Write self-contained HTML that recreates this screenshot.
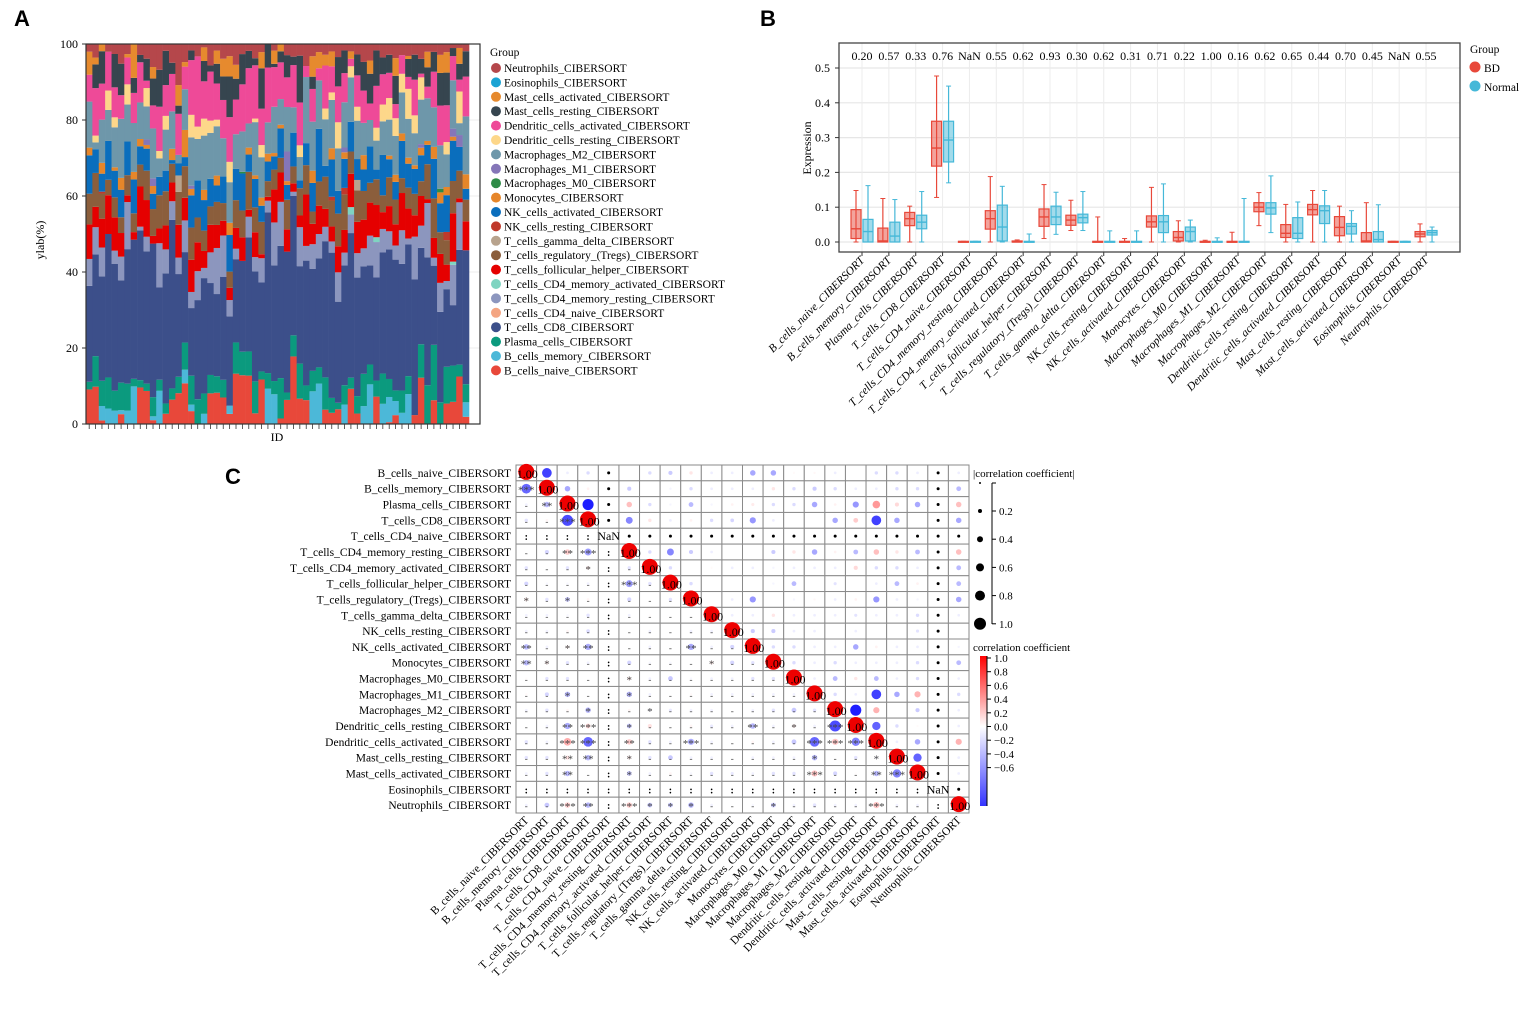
<!DOCTYPE html>
<html><head><meta charset="utf-8"><style>
html,body{margin:0;padding:0;background:#fff;}
svg{display:block;font-family:"Liberation Serif",serif;}
</style></head><body>
<svg id="fig" width="1535" height="1009" viewBox="0 0 1535 1009" xmlns="http://www.w3.org/2000/svg">
<text x="14" y="26" font-family="Liberation Sans,sans-serif" font-weight="bold" font-size="22">A</text>
<text x="760" y="26" font-family="Liberation Sans,sans-serif" font-weight="bold" font-size="22">B</text>
<text x="225" y="484" font-family="Liberation Sans,sans-serif" font-weight="bold" font-size="22">C</text>
<g id="pa"></g>
<g id="pb"></g>
<g id="pc"></g>
</svg>
<script>
const NS="http://www.w3.org/2000/svg";
function mk(parent,tag,attrs,txt){const e=document.createElementNS(NS,tag);for(const k in attrs)e.setAttribute(k,attrs[k]);if(txt!==undefined)e.textContent=txt;parent.appendChild(e);return e;}

// ---------- Panel A data ----------
const cellTypes=["B_cells_naive_CIBERSORT","B_cells_memory_CIBERSORT","Plasma_cells_CIBERSORT","T_cells_CD8_CIBERSORT","T_cells_CD4_naive_CIBERSORT","T_cells_CD4_memory_resting_CIBERSORT","T_cells_CD4_memory_activated_CIBERSORT","T_cells_follicular_helper_CIBERSORT","T_cells_regulatory_(Tregs)_CIBERSORT","T_cells_gamma_delta_CIBERSORT","NK_cells_resting_CIBERSORT","NK_cells_activated_CIBERSORT","Monocytes_CIBERSORT","Macrophages_M0_CIBERSORT","Macrophages_M1_CIBERSORT","Macrophages_M2_CIBERSORT","Dendritic_cells_resting_CIBERSORT","Dendritic_cells_activated_CIBERSORT","Mast_cells_resting_CIBERSORT","Mast_cells_activated_CIBERSORT","Eosinophils_CIBERSORT","Neutrophils_CIBERSORT"];
const cellColors=["#E8483A","#4CB8D8","#0B9A7E","#3C4F8A","#F4A582","#8C96BE","#7FD4C1","#E50000","#8B5E3C","#B8A38D","#C0392B","#0A6EBD","#E6862A","#2E8B47","#8576B8","#6E97AA","#FDD78A","#EE4A98","#36454F","#E68A2E","#1BA3D4","#B5474B"];
const vBnaive=[9,11,1,0,0,2.5,0,0,10,9,1,0,3,6.5,7.5,9,4,0,0,10,9.5,9,2.5,14.5,14.5,14,3,11,0,0,1.5,6.5,16,6.5,6.5,0,0,4,3,4.5,0,9.5,3,0,0,8.5,0,0.5,2.5,0,0,2.5,12.5,0,6,0,5,5.5,12,2];
const vBmem=[0,0,4,4,4,1,4,10,0,0,1,9,0,0,0,3,2,0,3,0,0,0,2,0,0,0,0,0,9,9,0,0,0,0,0,8,10,0,0,0,6,0,0,5,12,0,6,7,4,3,10,0,0,0,0,0,0,0,0,4];
const vPlasma=[2,9,7,8,6,7,8,2,2,2,5,3,3,3,4,6,9,6,6,6,5,6,0,9,7,7,9,2,4,4,11,2,5,9,4,5,4,9,4,2,6,3,5,9,6,5,9,5,3,6,6,0,9,10,14,6,9,9,3,5];
const vCD8=[25,30,29,37,38,26,40,37,41,36,40,25,38,45,25,20,21,24,34,30,25,35,22,24,27,33,31,22,41,35,36,38,33,25,34,25,27,38,39,31,37,39,34,30,30,32,36,36,37,34,44,38,26,33,20,25,19,15,29,37];
const vCD4naive=new Array(60).fill(0);
const vCD4res=[7,8,8,0,4,6,14,0,1,4,0,12,7,5,4,7,5,7,3,10,14,14,4,3,0,6,4,6,3,13,12,0,1,10,4,6,6,4,3,9,4,5,7,5,9,11,7,5,4,9,2,12,6,14,2,8,2,10,12,0];
const vCD4act=[0,0,0,0,0,0,0,0,0,0,0,0,0,0,0,0,0,0,0,0,0,0,0,0,0,0,0,0,0,0,0,0,0,0,0,0,0,0,0,0,0,2,0,0,0,1.5,0,0,0,0,0,0,0,0,0,0,0,0.8,0,0];
const vTfh=[9,6,8,10,10,6,2,2,11,10,2,4,7,5,8,5,10,7,5,9,7,5,3,6,7,2,7,1,1,10,8,6,2,3,14,5,7,5,4,8,7,9,9,8,10,10,5,7,6,10,10,6,8,1,5,8,4,12,1,8];
const vTreg=[8,10,7,4,6,4,6,5,6,8,7,9,10,5,8,7,10,6,6,6,7,6,4,8,8,11,7,8,4,6,4,8,4,7,8,3,6,9,7,10,11,6,9,8,6,8,5,8,7,4,7,6,4,9,10,6,6,8,7,6];
const vGamma=[0,0,0,0,0,0,0,0,0,0,0,0,0,0,4,0,0,0,0,0,0,0,0,0,0,0,0,0,0,0,0,0,0,0,0,0,0,0,0,0,0,0,3,0,0,0,0,0,0,0,0,0,0,0,0,0,0,0,0,0];
const vNKres=[0,0,0.5,0,0,0,0,0,0,0,0,0,0,0,0,0,0,0,0,0,0,0,0,0,0,0,0,0,0,0,0,0,0,0,0,0,0,0,1,0,2,0,0,0,0,0,0,0,0,0,0,0,0,0,0,0,2,0,0,0];
const vNKact=[10,7,5,10,8,7,10,9,5,6,4,5,6,1,3,2,10,9,9,9,5,9,9,9,11,5,8,4,5,4,8,4,8,2,6,7,13,3,10,7,9,8,6,6,11,3,12,5,5,10,8,7,7,5,10,8,9,10,6,3];
const vMono=[2,0,3,0,1,3,0,2,2,1,2,0,0,3,0,6,2,0,3,0,3,0,3,0,0,2,1,2,2,1,1,1,0,0,0,3,0,0,3,0,2,0,0,4,0,0,0,1,2,2,2,1,2,1,3,3,2,1,0,4];
const vM0=[0,0,0,0,0,0,0,0,0,0,0,0,0,0,0,0,0,0,0,0,0,0,0,0,0.5,0,0,0,0,0,0,0,0,0,0,0,0,0,0,0,0,0,0,0,0,0,0,0,0,0,0,0,0,0,0,1,0,0,0,0];
const vM1=[0,0,0,0,0,0,0,0,0,1.5,2,0,0,0,0,0,1,0,0,0,0,0,0,0,0,0,0,0,0,0,0,8,0,0,0,0,0,0,0,0,1.5,0,0,0,0,0,0,0,0,0,0,0,1,0,0,0,0,2,3,0];
const vM2=[12,2,12,8,12,15,11,13,10,9,13,5,12,10,2,9,15,10,16,15,15,13,10,10,12,7,15,10,8,14,7,12,6,6,18,12,12,13,13,13,14,12,11,9,8,9,10,10,11,11,13,9,12,11,10,12,8,12,3,16];
const vDCres=[0,2,0,5,3,0,6,0,0,5,0,2,4,0,0,0,7,3,5,4,2,0,5,0,0,0,1,3,0,0,0,0,0,3,0,0,0,3,2,8,0,3,4,0,0,4,5,6,5,5,10,5,6,0,0,0,3,0,8,0];
const vDCact=[7,14,10,10,9,6,8,8,11,2,6,12,9,10,10,5,17,17,11,16,11,13,11,10,14,16,15,9,14,12,10,8,10,11,3,8,3,12,7,11,9,2,9,9,5,13,9,7,4,5,4,10,1,3,9,11,9,6,3,11];
const vMastRes=[0,7,9,0,10,8,0,4,2,6,7,10,10,3,2,0,3,0,6,2,6,8,10,6,9,5,2,10,6,1,3,6,2,12,0,3,0,0,0,9,7,0,6,8,9,11,5,5,8,0,6,7,4,5,5,9,8,2,4,7];
const vMastAct=[6,2,2,0,0,0,1,9,0,0,3,0,0,0,5,1,0,0,4,0,4,6,5,4,0,0,0,4,0,4,2,0,0,0,0,5,4,3,4,0,0,2,0,0,4,0,0,0,5,0,1,0,0,4,0,5,5,0,4,0];
const vEos=new Array(60).fill(0);
const vNeut=[2,4,0,2,3,5,3,0,3,4,6,7,2,5,10,4,2,3,1,7,2,5,3,6,3,2,4,2,0,2,0,3,3,3,6,3,2,3,2,4,2,2,3,5,5,2,4,3,4,3,4,3,4,2,2,3,2,1,1,2];
const yTicksA=[0,20,40,60,80,100];

// ---------- Panel B data ----------
const bdQ1=[0.01,0,0.047,0.218,0,0.037,0,0.045,0.048,0,0,0.043,0.003,0,0,0.087,0.013,0.078,0.018,0,0,0.015];
const bdMed=[0.038,0.003,0.067,0.27,0,0.067,0,0.072,0.063,0,0,0.058,0.013,0,0,0.1,0.025,0.093,0.042,0.003,0,0.023];
const bdQ3=[0.093,0.04,0.085,0.347,0.002,0.09,0.003,0.095,0.077,0.002,0.002,0.075,0.03,0.002,0.002,0.113,0.05,0.108,0.073,0.027,0.002,0.03];
const bdLo=[0,0,0,0.128,0,0,0,0.01,0.033,0,0,0,0,0,0,0.047,0,0,0,0,0,0];
const bdHi=[0.148,0.125,0.103,0.477,0.002,0.188,0.006,0.165,0.12,0.072,0.01,0.157,0.061,0.005,0.028,0.142,0.108,0.148,0.103,0.113,0.002,0.052];
const nQ1=[0,0,0.038,0.23,0,0.003,0,0.05,0.055,0,0,0.027,0.003,0,0,0.08,0.01,0.053,0.023,0,0,0.02];
const nMed=[0.03,0.017,0.057,0.293,0,0.043,0,0.072,0.07,0,0,0.058,0.03,0,0,0.098,0.025,0.09,0.045,0.007,0,0.027];
const nQ3=[0.065,0.057,0.077,0.347,0.002,0.106,0.002,0.103,0.08,0.002,0.002,0.076,0.043,0.002,0.002,0.113,0.07,0.104,0.053,0.03,0.002,0.033];
const nLo=[0,0,0,0.17,0,0,0,0.022,0.033,0,0,0,0,0,0,0.027,0,0,0,0,0,0];
const nHi=[0.162,0.122,0.145,0.448,0.002,0.16,0.023,0.143,0.145,0.032,0.032,0.167,0.063,0.012,0.125,0.19,0.115,0.148,0.09,0.107,0.002,0.043];
const pLabels=["0.20","0.57","0.33","0.76","NaN","0.55","0.62","0.93","0.30","0.62","0.31","0.71","0.22","1.00","0.16","0.62","0.65","0.44","0.70","0.45","NaN","0.55"];
const bxCats=["B_cells_naive_CIBERSORT","B_cells_memory_CIBERSORT","Plasma_cells_CIBERSORT","T_cells_CD8_CIBERSORT","T_cells_CD4_naive_CIBERSORT","T_cells_CD4_memory_resting_CIBERSORT","T_cells_CD4_memory_activated_CIBERSORT","T_cells_follicular_helper_CIBERSORT","T_cells_regulatory_(Tregs)_CIBERSORT","T_cells_gamma_delta_CIBERSORT","NK_cells_resting_CIBERSORT","NK_cells_activated_CIBERSORT","Monocytes_CIBERSORT","Macrophages_M0_CIBERSORT","Macrophages_M1_CIBERSORT","Macrophages_M2_CIBERSORT","Dendritic_cells_resting_CIBERSORT","Dendritic_cells_activated_CIBERSORT","Mast_cells_resting_CIBERSORT","Mast_cells_activated_CIBERSORT","Eosinophils_CIBERSORT","Neutrophils_CIBERSORT"];
const yTicksB=[0,0.1,0.2,0.3,0.4,0.5];

// ---------- Panel C data (upper triangle, row i, cols i+1..21; null = NaN) ----------
const corrUpper=[
[-0.55,-0.05,-0.1,null,0,-0.1,-0.15,0.1,-0.05,-0.05,-0.25,-0.25,0.02,0.03,-0.05,0,-0.1,-0.1,-0.05,null,-0.05],
[-0.25,0.05,null,-0.15,0,-0.03,-0.1,-0.05,-0.05,-0.05,0.1,-0.1,-0.15,-0.1,-0.05,-0.05,-0.1,-0.1,null,-0.2],
[-0.65,null,0.25,-0.1,-0.03,-0.2,-0.03,0.05,0.08,-0.1,-0.1,-0.25,0.05,-0.3,0.4,0.15,-0.25,null,0.25],
[null,-0.35,0.1,-0.05,0.05,-0.1,-0.12,-0.3,-0.05,0,0,-0.25,0.2,-0.55,-0.25,0,null,-0.25],
[null,null,null,null,null,null,null,null,null,null,null,null,null,null,null,null,null],
[-0.1,-0.35,-0.15,-0.05,0,0,-0.15,0.1,-0.25,0.05,-0.2,0.25,0.1,-0.2,null,0.25],
[-0.1,0,0.02,-0.05,-0.05,-0.03,-0.05,-0.05,-0.05,0.15,-0.1,-0.1,-0.05,null,-0.2],
[-0.1,0,0,0,-0.03,-0.2,0,-0.08,0,-0.05,-0.2,0.05,null,-0.2],
[0,-0.05,-0.3,0,-0.03,0.03,-0.05,0.05,-0.3,-0.05,-0.03,null,-0.25],
[-0.05,-0.05,0.1,-0.05,-0.05,-0.05,-0.08,-0.05,-0.05,-0.1,null,-0.05],
[-0.15,-0.15,-0.05,-0.05,0,-0.05,0,0,-0.08,null,0],
[-0.1,-0.1,-0.05,-0.05,-0.25,0.05,-0.05,-0.05,null,-0.03],
[-0.1,-0.05,-0.1,-0.05,-0.05,-0.05,-0.1,null,-0.2],
[-0.05,-0.2,0.1,-0.2,-0.05,-0.1,null,-0.05],
[-0.1,-0.05,-0.55,-0.25,0.3,null,-0.1],
[-0.65,0.3,0,-0.15,null,-0.05],
[-0.45,-0.1,0.02,null,-0.05],
[-0.05,-0.25,null,0.3],
[-0.45,null,-0.05],
[null,-0.05],
[null],
[]
];
const sigRows=[1,2,3,5,5,6,7,8,8,11,11,11,11,12,12,12,13,14,14,15,15,16,16,16,16,16,16,17,17,17,17,17,17,17,18,18,18,18,18,19,19,19,19,19,21,21,21,21,21,21,21,21];
const sigCols=[0,1,2,2,3,3,5,0,2,0,2,3,8,0,1,9,5,2,5,3,6,2,3,5,11,13,15,2,3,5,8,14,15,16,2,3,5,14,17,2,5,14,17,18,2,3,5,6,7,8,12,17];
const sigStars=["***","**","***","**","***","*","***","*","*","**","*","**","**","**","*","*","*","*","*","*","*","**","***","*","**","*","***","***","***","**","***","***","***","***","**","**","*","*","*","**","*","***","**","***","***","**","***","*","*","*","*","***"];
const sizeLegendVals=[0.2,0.4,0.6,0.8,1.0];
const colorLegendTicks=[1.0,0.8,0.6,0.4,0.2,0.0,-0.2,-0.4,-0.6];

// ================= Panel A =================
(function(){
const g=document.getElementById('pa');
const L=86,R=480,T=44,B=424,N=60;
const y=v=>B-(v/100)*(B-T);
const bw=(469-L)/N;
const xb=i=>L+i*bw;
const series=[vBnaive,vBmem,vPlasma,vCD8,vCD4naive,vCD4res,vCD4act,vTfh,vTreg,vGamma,vNKres,vNKact,vMono,vM0,vM1,vM2,vDCres,vDCact,vMastRes,vMastAct,vEos,vNeut];
mk(g,'rect',{x:L,y:T,width:R-L,height:B-T,fill:'#fff',stroke:'none'});
yTicksA.forEach(t=>{const l=mk(g,'line',{x1:L,x2:R,y1:y(t),y2:y(t),stroke:'#ececec'});
});
for(let i=0;i<N;i++){
 let tot=0;series.forEach(s=>tot+=s[i]);
 let acc=0;
 series.forEach((s,k)=>{const v=s[i]/tot*100;if(v<=0)return;
  const r=mk(g,'rect',{x:xb(i),y:y(acc+v),width:bw+0.3,height:y(acc)-y(acc+v),fill:cellColors[k]});
  
  acc+=v;});
 const tk=mk(g,'line',{x1:xb(i)+bw/2,x2:xb(i)+bw/2,y1:B,y2:B+5,stroke:'#333','stroke-width':0.8});
 
}
mk(g,'rect',{x:L,y:T,width:R-L,height:B-T,fill:'none',stroke:'#333','stroke-width':1.2});
yTicksA.forEach(t=>{mk(g,'line',{x1:L-4,x2:L,y1:y(t),y2:y(t),stroke:'#333'});
 const tx=mk(g,'text',{x:L-8,y:y(t)+4,'text-anchor':'end','font-size':12},String(t));
 });
mk(g,'text',{x:44,y:240,'font-size':12,'text-anchor':'middle',transform:'rotate(-90 44 240)',},'ylab(%)');
mk(g,'text',{x:277,y:441,'font-size':12,'text-anchor':'middle',},'ID');
const lg=mk(g,'g',{});
mk(lg,'text',{x:490,y:56,'font-size':11.5},'Group');
for(let j=0;j<22;j++){const k=21-j;const yy=68+j*14.4;
 const c=mk(lg,'circle',{cx:496,cy:yy,r:5,fill:cellColors[k]});
 
 const t=mk(lg,'text',{x:504,y:yy+4,'font-size':11.5},cellTypes[k]);
 }
})();

// ================= Panel B =================
(function(){
const g=document.getElementById('pb');
const L=839,R=1460,T=43,B=252;
const y=v=>242-v*348;
const x=i=>862+i*26.86;
const bdS='#E8483A',bdF='rgba(232,72,58,0.5)',nS='#45B8D8',nF='rgba(69,184,216,0.5)';
[0,0.1,0.2,0.3,0.4,0.5].forEach(t=>{const l=mk(g,'line',{x1:L,x2:R,y1:y(t),y2:y(t),stroke:'#e6e6e6','stroke-width':1.2});
 });
bxCats.forEach((c,i)=>mk(g,'line',{x1:x(i),x2:x(i),y1:T,y2:B,stroke:'#ececec'}));
function box(i,off,q1,md,q3,lo,hi,s,f,name){
 const cx=x(i)+off,w=10;
 const grp=mk(g,'g',{});
 
 mk(grp,'line',{x1:cx,x2:cx,y1:y(hi),y2:y(lo),stroke:s,'stroke-width':1.2});
 mk(grp,'line',{x1:cx-2.5,x2:cx+2.5,y1:y(hi),y2:y(hi),stroke:s});
 mk(grp,'line',{x1:cx-2.5,x2:cx+2.5,y1:y(lo),y2:y(lo),stroke:s});
 mk(grp,'rect',{x:cx-w/2,y:y(q3),width:w,height:Math.max(1,y(q1)-y(q3)),fill:f,stroke:s,'stroke-width':1.2});
 mk(grp,'line',{x1:cx-w/2,x2:cx+w/2,y1:y(md),y2:y(md),stroke:s,'stroke-width':1.4});
}
bxCats.forEach((c,i)=>{
 box(i,-6,bdQ1[i],bdMed[i],bdQ3[i],bdLo[i],bdHi[i],bdS,bdF,'box-bd');
 box(i,6,nQ1[i],nMed[i],nQ3[i],nLo[i],nHi[i],nS,nF,'box-normal');
 const p=mk(g,'text',{x:x(i),y:60,'font-size':12,'text-anchor':'middle'},pLabels[i]);
 
 mk(g,'line',{x1:x(i),x2:x(i),y1:B,y2:B+4,stroke:'#333'});
 const t=mk(g,'text',{x:x(i)+3,y:B+9,'font-size':11.5,'text-anchor':'end','font-style':'italic',transform:`rotate(-45 ${x(i)+3} ${B+9})`},c);
 
});
mk(g,'rect',{x:L,y:T,width:R-L,height:B-T,fill:'none',stroke:'#444','stroke-width':1.3});
yTicksB.forEach(t=>{mk(g,'line',{x1:L-4,x2:L,y1:y(t),y2:y(t),stroke:'#333'});
 const tx=mk(g,'text',{x:L-9,y:y(t)+4,'font-size':12,'text-anchor':'end'},t.toFixed(1));
 });
mk(g,'text',{x:811,y:148,'font-size':12,'text-anchor':'middle',transform:'rotate(-90 811 148)',},'Expression');
const lg=mk(g,'g',{});
mk(lg,'text',{x:1470,y:53,'font-size':11.5},'Group');
mk(lg,'circle',{cx:1475,cy:67,r:5.5,fill:bdS,});
mk(lg,'text',{x:1484,y:72,'font-size':11.5,},'BD');
mk(lg,'circle',{cx:1475,cy:86,r:5.5,fill:nS,});
mk(lg,'text',{x:1484,y:91,'font-size':11.5,},'Normal');
})();

// ================= Panel C =================
(function(){
const g=document.getElementById('pc');
const L=516,T=465,n=22,cw=453/22,ch=348/22;
const cx=j=>L+(j+0.5)*cw, cy=i=>T+(i+0.5)*ch;
const rad=v=>1+Math.abs(v)*7;
function col(v){
 if(v>=0){const t=Math.min(1,v);const gg=Math.round(255*(1-t));return `rgb(255,${gg},${gg})`;}
 const t=Math.min(1,-v/0.7);const rr=Math.round(255*(1-t*0.95));return `rgb(${rr},${rr},255)`;
}
const M=[];for(let i=0;i<n;i++){M.push(new Array(n).fill(0));}
corrUpper.forEach((row,i)=>row.forEach((v,k)=>{const j=i+1+k;M[i][j]=v;M[j][i]=v;}));
const nanIdx=[4,20];
for(let i=0;i<n;i++)for(let j=0;j<n;j++){
 const r=mk(g,'rect',{x:L+j*cw,y:T+i*ch,width:cw,height:ch,fill:'#fff',stroke:'#8a8a8a','stroke-width':1});
 
}
const sigMap={};sigRows.forEach((r,k)=>sigMap[r+'_'+sigCols[k]]=sigStars[k]);
for(let i=0;i<n;i++)for(let j=0;j<n;j++){
 const isNaN_=nanIdx.includes(i)||nanIdx.includes(j);
 if(i===j){
  if(isNaN_){mk(g,'text',{x:cx(j),y:cy(i)+4,'font-size':12,'text-anchor':'middle'},'NaN');continue;}
  const c=mk(g,'circle',{cx:cx(j),cy:cy(i)-1,r:8,fill:'#EE0000'});
  
  mk(g,'text',{x:cx(j)+1,y:cy(i)+5,'font-size':12,'text-anchor':'middle'},'1.00');
  continue;}
 if(j>i){
  if(isNaN_){mk(g,'circle',{cx:cx(j),cy:cy(i),r:1.5,fill:'#000'});continue;}
  const v=M[i][j];
  const c=mk(g,'circle',{cx:cx(j),cy:cy(i),r:rad(v),fill:col(v)});
  
 } else {
  if(isNaN_){mk(g,'text',{x:cx(j),y:cy(i)+4,'font-size':10,'text-anchor':'middle','font-weight':'bold'},':');continue;}
  const v=M[i][j];
  const c=mk(g,'circle',{cx:cx(j),cy:cy(i),r:rad(v),fill:col(v),opacity:0.8});
  
  const s=sigMap[i+'_'+j];
  mk(g,'text',{x:cx(j),y:cy(i)+(s?5:4),'font-size':s?11:9,'text-anchor':'middle',fill:'#444'},s||'-');
 }
}
cellTypes.forEach((c,i)=>{
 const t=mk(g,'text',{x:511,y:cy(i)+4,'font-size':11.5,'text-anchor':'end'},c);
 
 const xx=cx(i)+3,yy=T+n*ch+8;
 const u=mk(g,'text',{x:xx,y:yy,'font-size':11.5,'text-anchor':'end',transform:`rotate(-45 ${xx} ${yy})`},c);
 
});
const sl=mk(g,'g',{});
mk(sl,'text',{x:973,y:477,'font-size':11},'|correlation coefficient|');
mk(sl,'circle',{cx:980,cy:483,r:1,fill:'#000'});
mk(sl,'line',{x1:992,x2:992,y1:483,y2:624,stroke:'#000'});
mk(sl,'line',{x1:992,x2:996,y1:483,y2:483,stroke:'#000'});
sizeLegendVals.forEach((v,k)=>{const yy=511+k*28.2;
 mk(sl,'circle',{cx:980,cy:yy,r:1+v*5,fill:'#000'});
 mk(sl,'line',{x1:992,x2:996,y1:yy,y2:yy,stroke:'#000'});
 mk(sl,'text',{x:999,y:yy+4,'font-size':11},v.toFixed(1));});
const cl=mk(g,'g',{});
mk(cl,'text',{x:973,y:651,'font-size':11},'correlation coefficient');
const defs=mk(cl,'defs',{});
const gr=mk(defs,'linearGradient',{id:'cg',x1:0,y1:0,x2:0,y2:1});
[[0,'#ff0000'],[0.47,'#ffffff'],[1,'#3333ff']].forEach(s=>mk(gr,'stop',{offset:s[0],'stop-color':s[1]}));
mk(cl,'rect',{x:980,y:656,width:7,height:150,fill:'url(#cg)'});
const cyv=v=>658+(1-v)*68.5;
colorLegendTicks.forEach(v=>{const yy=cyv(v);
 mk(cl,'line',{x1:987,x2:991,y1:yy,y2:yy,stroke:'#000'});
 mk(cl,'text',{x:994,y:yy+4,'font-size':11},(v<0?'\u2212'+Math.abs(v).toFixed(1):v.toFixed(1)));});
mk(cl,'line',{x1:987,x2:987,y1:656,y2:806,stroke:'#000'});
})();
</script>
</body></html>
